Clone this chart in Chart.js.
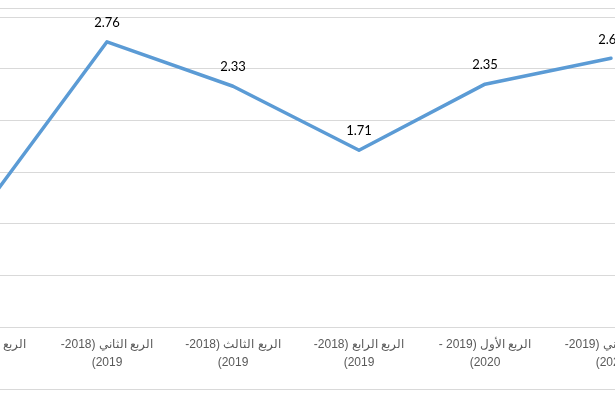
<!DOCTYPE html>
<html>
<head>
<meta charset="utf-8">
<script src="https://cdn.jsdelivr.net/npm/chart.js@4.4.1/dist/chart.umd.min.js"></script>
<style>
    html, body { margin: 0; padding: 0; background: #fff; overflow: hidden; }
    #wrap { position: relative; width: 615px; height: 394px; overflow: hidden; }
    #frame { position: absolute; left: -20px; right: -20px; top: 8px; height: 382px; border: 1px solid #d9d9d9; box-sizing: border-box; }
    #box { position: absolute; left: -82px; top: 0; width: 756px; height: 394px; }
</style>
</head>
<body>
<div id="wrap">
    <div id="frame"></div>
    <div id="box"><canvas id="chart" width="756" height="394" dir="rtl"></canvas></div>
</div>
<script>
// Quarter labels (wrapped the way the original axis shows them)
const quarters = [
    ['الربع الأول (2018-', '2019)'],
    ['الربع الثاني (2018-', '2019)'],
    ['الربع الثالث (2018-', '2019)'],
    ['الربع الرابع (2018-', '2019)'],
    ['الربع الأول (2019 -', '2020)'],
    ['الربع الثاني (2019-', '2020)']
];
const values = [1.11, 2.76, 2.33, 1.71, 2.35, 2.60];

const yMin = 0;
const yMax = 3;
const yStep = 0.5;

// labels above each point
const valueLabels = {
    id: 'valueLabels',
    afterDatasetsDraw(chart) {
        const ctx = chart.ctx;
        const meta = chart.getDatasetMeta(0);
        ctx.save();
        ctx.font = '13px Lato, "Liberation Sans", sans-serif';
        ctx.fillStyle = '#000';
        ctx.textAlign = 'center';
        ctx.textBaseline = 'middle';
        meta.data.forEach((pt, i) => {
            ctx.fillText(values[i].toFixed(2), pt.x, pt.y - 19);
        });
        ctx.restore();
    }
};

new Chart(document.getElementById('chart'), {
    type: 'line',
    data: {
        labels: quarters,
        datasets: [{
            data: values,
            borderColor: '#5b9bd5',
            borderWidth: 3.5,
            borderJoinStyle: 'round',
            borderCapStyle: 'round',
            pointRadius: 0,
            tension: 0,
            fill: false
        }]
    },
    options: {
        responsive: false,
        animation: false,
        layout: { padding: { top: 17, left: 0, right: 0, bottom: 0 } },
        plugins: { legend: { display: false }, tooltip: { enabled: false } },
        scales: {
            x: {
                offset: true,
                grid: { display: false },
                border: { display: false },
                ticks: {
                    color: '#595959',
                    font: { family: '"Liberation Sans", Arial, sans-serif', size: 12, lineHeight: 1.5 },
                    maxRotation: 0,
                    autoSkip: false,
                    padding: 1
                },
                afterFit: s => { s.height = 67; }
            },
            y: {
                min: yMin,
                max: yMax,
                ticks: { stepSize: yStep, display: false },
                grid: { color: '#d9d9d9', drawTicks: false },
                border: { display: false },
                afterFit: s => { s.width = 0; }
            }
        }
    },
    plugins: [valueLabels]
});
</script>
</body>
</html>
